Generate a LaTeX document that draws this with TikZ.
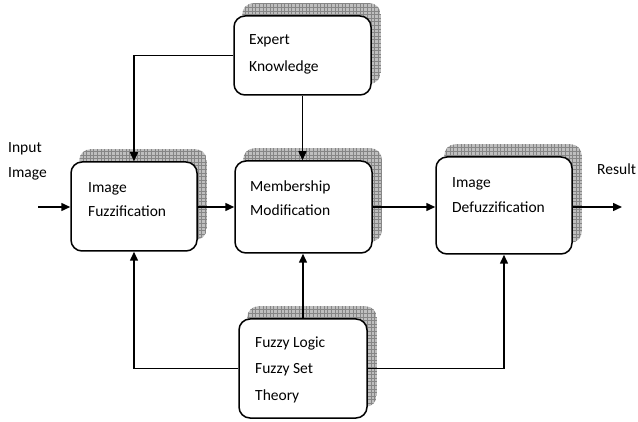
\documentclass[tikz,border=0pt]{standalone}
\usepackage{fontspec}
\setmainfont{Carlito}
\usetikzlibrary{arrows.meta,backgrounds}
\tikzset{
  box/.style={draw, line width=1.5pt, rounded corners=11pt, fill=white, inner sep=0pt},
  lbl/.style={anchor=base west, align=left, inner sep=0pt, font=\fontsize{15.5}{25}\selectfont},
  conn/.style={line width=1.4pt},
  arr/.style={line width=1.5pt, -{Triangle[length=9pt,width=8pt]}},
  shadefill/.style={fill=gray!50},
  shadegrid/.style={draw=gray!95, line width=0.5pt}
}
\newcommand{\gridshadow}[1]{%
  \begin{scope}
    \clip[rounded corners=11pt] ([shift={(9,-12)}]#1.south west) rectangle ([shift={(9,-12)}]#1.north east);
    \fill[shadefill] ([shift={(9,-12)}]#1.south west) rectangle ([shift={(9,-12)}]#1.north east);
    \draw[shadegrid, step=3.6pt] ([shift={(9,-12)}]#1.south west) grid ([shift={(9,-12)}]#1.north east);
  \end{scope}}
\begin{document}
\begin{tikzpicture}[x=1pt,y=-1pt]
\useasboundingbox (0,0) rectangle (638,422);
% boxes
\node[box, minimum width=137pt, minimum height=79pt] (expert) at (302.5,55.5) {};
\node[box, minimum width=126pt, minimum height=89pt] (fuzz) at (134,206.5) {};
\node[box, minimum width=137pt, minimum height=92pt] (memb) at (303.5,207) {};
\node[box, minimum width=136pt, minimum height=97pt] (defuzz) at (504,205.5) {};
\node[box, minimum width=128pt, minimum height=99pt] (logic) at (303,368.5) {};
% shadows
\begin{scope}[on background layer]
\gridshadow{expert}
\gridshadow{fuzz}
\gridshadow{memb}
\gridshadow{defuzz}
\gridshadow{logic}
\end{scope}
% texts (anchor at baseline of last line)
\node[lbl, font=\fontsize{15.5}{27}\selectfont] (expertT) at (249,72) {Expert\\Knowledge};
\node[lbl, font=\fontsize{15.5}{24}\selectfont] (fuzzT) at (88,217) {Image\\Fuzzification};
\node[lbl, font=\fontsize{15.5}{24}\selectfont] (membT) at (250,216) {Membership\\Modification};
\node[lbl] (defuzzT) at (452,213) {Image\\Defuzzification};
\node[lbl, font=\fontsize{15.5}{26.5}\selectfont] (logicT) at (255,400) {Fuzzy Logic\\Fuzzy Set\\Theory};
\node[lbl, font=\fontsize{15.5}{24.5}\selectfont] (inputT) at (8,177.5) {Input\\Image};
\node[lbl] (resultT) at (597,175) {Result};
% connectors
\coordinate (inp) at (38,207);
\coordinate (res) at (622,207);
\draw[arr] (inp) -- (inp -| fuzz.west);
\draw[arr] (fuzz.east |- inp) -- (memb.west |- inp);
\draw[arr] (memb.east |- inp) -- (defuzz.west |- inp);
\draw[arr] (defuzz.east |- res) -- (res);
\draw[arr] (expert.west) -| (fuzz.north);
\draw[arr] (expert.south) -- (expert.south |- memb.north);
\draw[arr] (logic.north) -- (logic.north |- memb.south);
\draw[arr] (logic.west) -| (fuzz.south);
\draw[arr] (logic.east) -| (defuzz.south);
\end{tikzpicture}
\end{document}
